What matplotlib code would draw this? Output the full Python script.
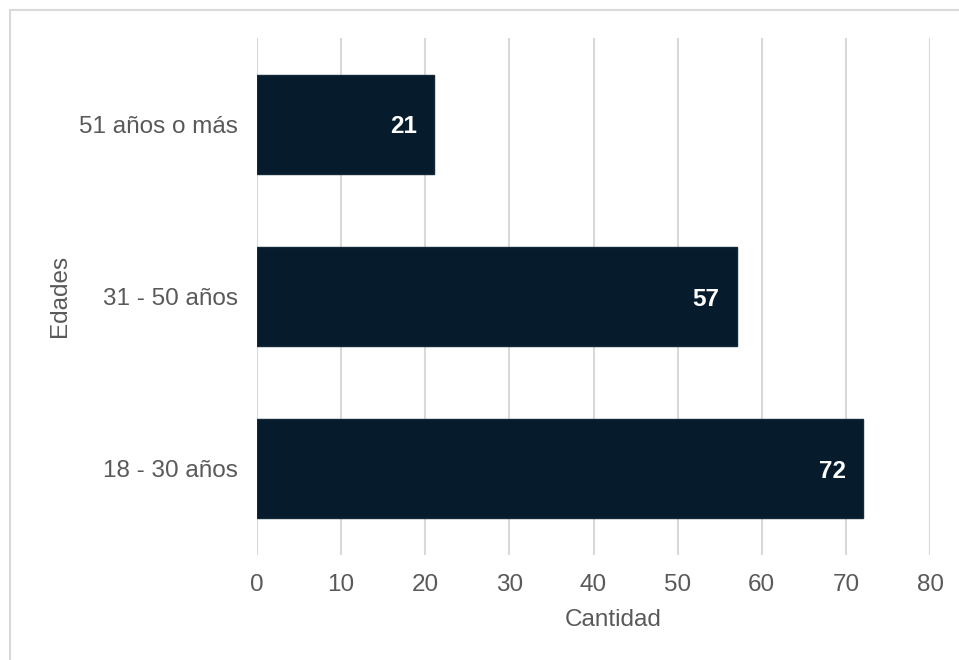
import matplotlib
matplotlib.use("Agg")
import matplotlib.pyplot as plt
from matplotlib.patches import Rectangle

categories = ["18 - 30 años", "31 - 50 años", "51 años o más"]
values = [72, 57, 21]
xticks = [0, 10, 20, 30, 40, 50, 60, 70, 80]

plt.rcParams['font.family'] = ['Liberation Sans', 'DejaVu Sans']

fig = plt.figure(figsize=(9.59, 6.6), dpi=100)
ax = fig.add_axes([257/959, 1-555/660, (930-257)/959, (555-38)/660])

bars = ax.barh(range(len(categories)), values, height=0.576, color='#061c2c',
               edgecolor='#13293a', linewidth=1.0, zorder=3)
for i, v in enumerate(values):
    ax.text(v - 2.0, i, str(v), ha='right', va='center_baseline', color='white',
            fontsize=17.5, fontweight='bold', zorder=4)

ax.set_xlim(0, 80)
ax.set_ylim(-0.5, len(categories) - 0.5)
ax.set_xticks(xticks)
ax.set_xticklabels([str(t) for t in xticks])
ax.set_yticks(range(len(categories)))
ax.set_yticklabels(categories)
ax.tick_params(axis='both', length=0, labelsize=17.5, labelcolor='#595959')
ax.tick_params(axis='x', pad=14)
ax.tick_params(axis='y', pad=14)
ax.grid(axis='x', color='#d9d9d9', linewidth=1.5, zorder=0)
ax.set_axisbelow(True)
for s in ax.spines.values():
    s.set_visible(False)

fig.text(613/959, 1-620/660, "Cantidad", ha='center', va='center', fontsize=17.5, color='#595959')
fig.text(60/959, 1-296/660, "Edades", ha='center', va='center', fontsize=17.5, color='#595959', rotation=90)

fig.patches.append(Rectangle((9.5/959, -0.01), 1.0, 1 - 9.5/660 + 0.01, transform=fig.transFigure,
                             fill=False, edgecolor='#d9d9d9', linewidth=1.5))

fig.savefig("out.png", dpi=100)
